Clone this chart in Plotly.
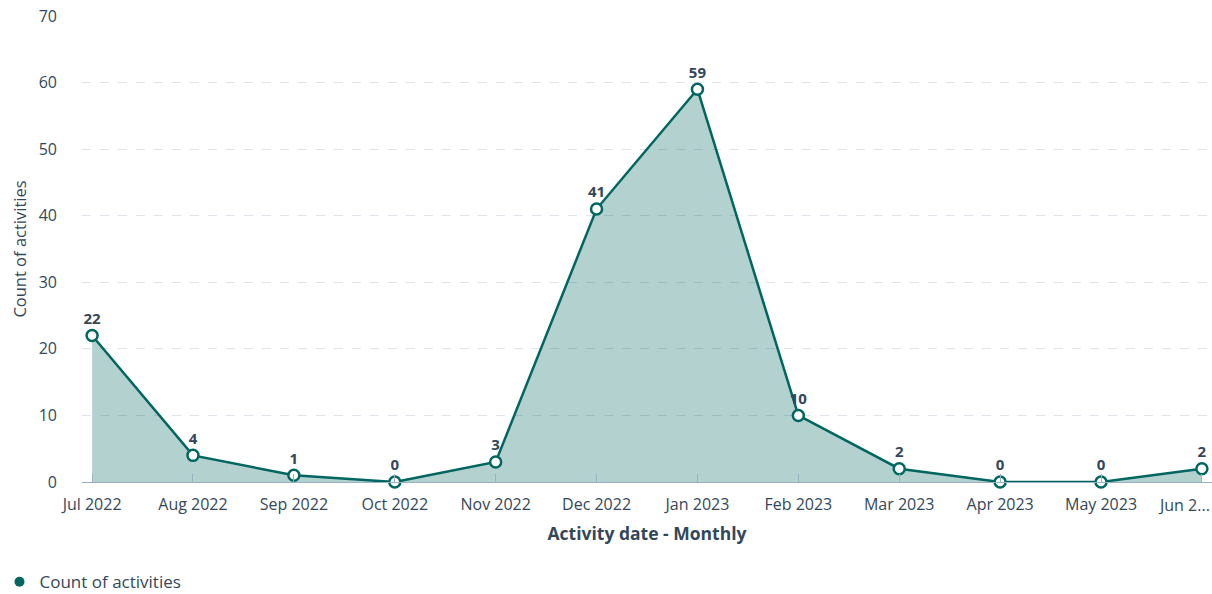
import plotly.graph_objects as go

months = ["Jul 2022", "Aug 2022", "Sep 2022", "Oct 2022", "Nov 2022", "Dec 2022",
          "Jan 2023", "Feb 2023", "Mar 2023", "Apr 2023", "May 2023", "Jun 2023"]
tick_labels = ["Jul 2022", "Aug 2022", "Sep 2022", "Oct 2022", "Nov 2022", "Dec 2022",
               "Jan 2023", "Feb 2023", "Mar 2023", "Apr 2023", "May 2023", ""]
last_label = "Jun 2..."
counts = [22, 4, 1, 0, 3, 41, 59, 10, 2, 0, 0, 2]

teal = "#00665f"
text_color = "#33475b"
font_family = "Open Sans, sans-serif"

fig = go.Figure()

fig.add_trace(go.Scatter(
    x=months,
    y=counts,
    mode="lines+markers+text",
    fill="tozeroy",
    fillcolor="rgba(0,102,95,0.3)",
    line=dict(color=teal, width=2.5),
    marker=dict(size=11, color="white", line=dict(color=teal, width=2.5)),
    text=[str(v) for v in counts],
    textposition="top center",
    textfont=dict(family=font_family, size=15, color=text_color, weight="bold"),
    cliponaxis=False,
    showlegend=False,
))

# legend entry only: a solid dot
fig.add_trace(go.Scatter(
    x=[None], y=[None],
    mode="markers",
    marker=dict(size=10, color=teal),
    name="Count of activities",
))

# last tick label is truncated and pulled left to fit the edge
fig.add_annotation(
    x=months[-1], y=0, xref="x", yref="paper",
    text=last_label, showarrow=False,
    xanchor="right", yanchor="top",
    xshift=10, yshift=-10,
    font=dict(size=16, color=text_color),
)

fig.update_layout(
    width=1212,
    height=594,
    margin=dict(l=82, r=0, t=16, b=112, autoexpand=False),
    paper_bgcolor="white",
    plot_bgcolor="white",
    font=dict(family=font_family, size=14, color=text_color),
    legend=dict(
        orientation="h",
        x=-0.073, xanchor="left",
        y=-0.215, yanchor="middle",
        font=dict(size=17, color=text_color),
        itemwidth=30,
    ),
    xaxis=dict(
        type="category",
        range=[-0.1, 11.1],
        tickvals=months,
        ticktext=tick_labels,
        automargin=False,
        showgrid=False,
        showline=True,
        linecolor="#99afc4",
        linewidth=1,
        ticks="inside",
        ticklen=8,
        tickcolor="#99afc4",
        tickfont=dict(size=16, color=text_color),
        ticklabelstandoff=8,
        title=dict(text="<b>Activity date - Monthly</b>", font=dict(size=17.5, color=text_color), standoff=13),
    ),
    yaxis=dict(
        range=[0, 70],
        dtick=10,
        automargin=False,
        showgrid=True,
        gridcolor="#dfe3eb",
        griddash="dash",
        zeroline=False,
        tickfont=dict(size=16, color=text_color),
        ticks="",
        ticklabelstandoff=24,
        title=dict(text="Count of activities", font=dict(size=16.5, color=text_color), standoff=7),
    ),
)

fig.write_html("out.html", config={"displayModeBar": False},
               post_script="document.body.style.margin = '0';")
